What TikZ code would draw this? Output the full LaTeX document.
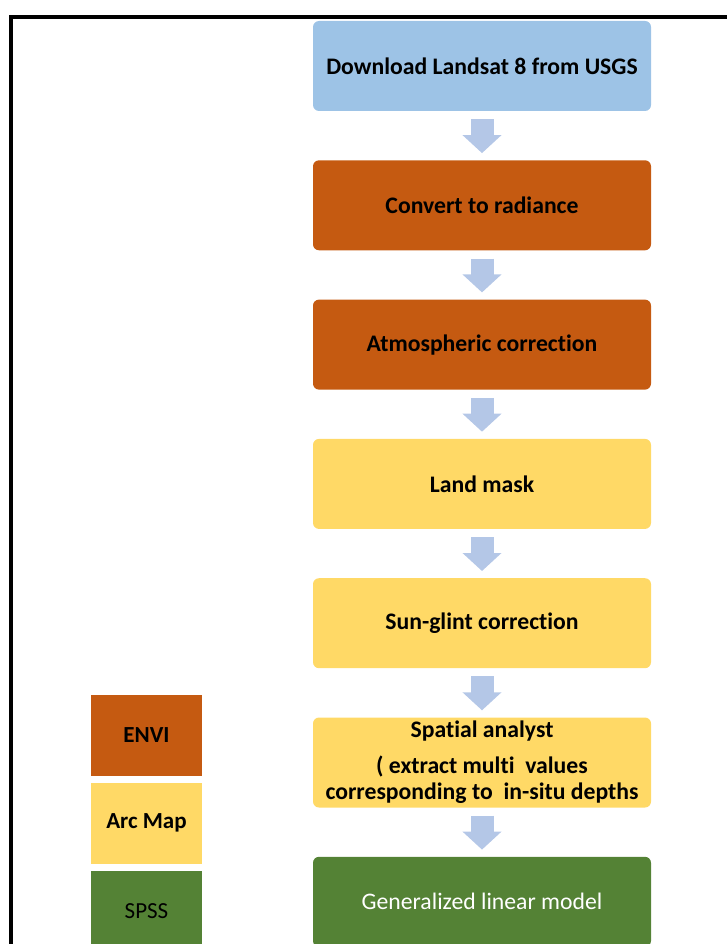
\documentclass[tikz,border=0pt]{standalone}
\usepackage{fontspec}
\setmainfont{Carlito}[Ligatures=NoCommon]
\usetikzlibrary{arrows.meta}

\definecolor{usgsblue}{HTML}{9DC3E6}
\definecolor{flowblue}{HTML}{B4C7E7}
\definecolor{envi}{HTML}{C55A11}
\definecolor{arcmap}{HTML}{FFD966}
\definecolor{spss}{HTML}{548235}

\tikzset{
  procbox/.style={rounded corners=6pt, minimum width=338pt, minimum height=90pt,
    inner sep=0pt, align=center, font=\fontsize{23.7}{26}\selectfont\bfseries},
  keybox/.style={minimum width=111pt, minimum height=81pt, inner sep=0pt,
    font=\fontsize{23}{27}\selectfont\bfseries},
  flowarrow/.style={flowblue, line width=23pt, shorten <=8pt, shorten >=7pt,
    -{Triangle[width=38pt,length=18pt]}}
}

\begin{document}
\begin{tikzpicture}[x=1pt,y=-1pt]
    \useasboundingbox (0,0) rectangle (727,944);
    \clip (0,0) rectangle (727,944);

    % frame
    \draw[line width=4pt] (11,950) -- (11,17) -- (730,17);

    % processing chain
    \node[procbox, fill=usgsblue] (download)   at (482,66)    {Download Landsat 8 from USGS};
    \node[procbox, fill=envi]     (radiance)   at (482,205.3) {Convert to radiance};
    \node[procbox, fill=envi]     (atmos)      at (482,344.6) {Atmospheric correction};
    \node[procbox, fill=arcmap]   (landmask)   at (482,483.9) {Land mask};
    \node[procbox, fill=arcmap]   (sunglint)   at (482,623.2) {Sun-glint correction};
    \node[procbox, fill=arcmap]   (spatial)    at (482,762.5)
        {Spatial analyst\\[10pt] ( extract multi\ \ values\\ corresponding to\ \ in-situ depths};
    \node[procbox, fill=spss, text=white, font=\fontsize{23.7}{26}\selectfont]
                                  (glm)        at (482,901.8) {Generalized linear model};

    \draw[flowarrow] (download) -- (radiance);
    \draw[flowarrow] (radiance) -- (atmos);
    \draw[flowarrow] (atmos) -- (landmask);
    \draw[flowarrow] (landmask) -- (sunglint);
    \draw[flowarrow] (sunglint) -- (spatial);
    \draw[flowarrow] (spatial) -- (glm);

    % legend
    \node[keybox, fill=envi]   (keyenvi) at (146.5,735.5) {ENVI};
    \node[keybox, fill=arcmap] (keyarc)  at (146.5,823)   {Arc Map};
    \node[keybox, fill=spss, font=\fontsize{23}{27}\selectfont] (keyspss) at (146.5,911) {SPSS};
\end{tikzpicture}
\end{document}
